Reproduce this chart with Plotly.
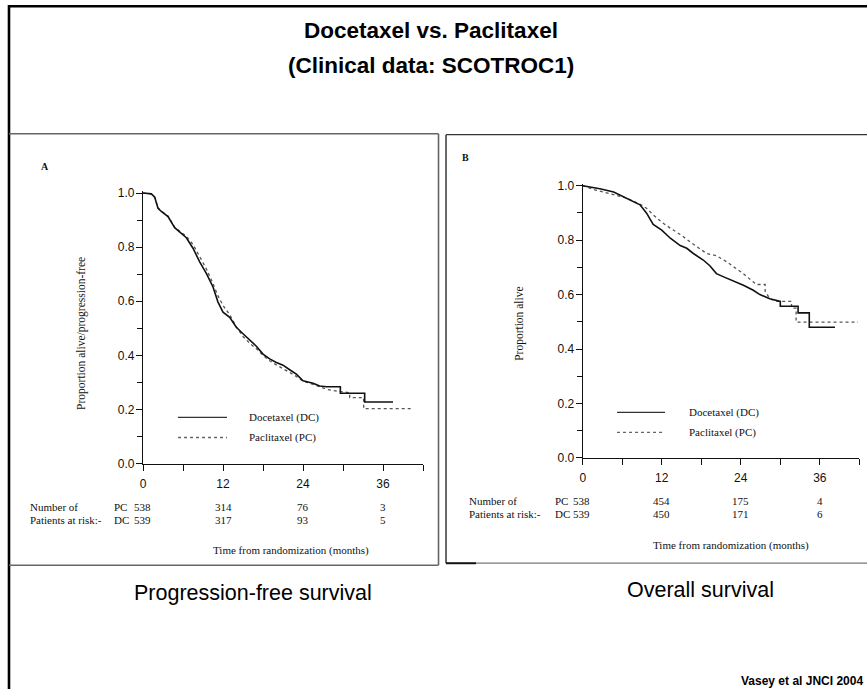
import plotly.graph_objects as go

W, H = 867, 696

# ---------------- data ----------------
# Progression-free survival, Docetaxel (DC)
pfs_dc_months = [0, 1.25, 1.75, 2.25, 2.75, 3.75, 4.75, 5.75, 6.5, 7.5, 8.5, 9.5, 10.5, 11.25,
                 12, 13, 14, 15, 16, 17, 18, 19, 20, 21, 22, 23, 24, 25.5, 26.5, 27.5,
                 29.6, 29.6, 33.25, 33.25, 37.5]
pfs_dc_surv = [1.0, 0.997, 0.985, 0.944, 0.932, 0.913, 0.872, 0.851, 0.835, 0.796, 0.746, 0.703,
               0.653, 0.597, 0.560, 0.541, 0.504, 0.480, 0.458, 0.434, 0.405, 0.387, 0.374, 0.364,
               0.347, 0.331, 0.306, 0.297, 0.287, 0.284, 0.284, 0.260, 0.260, 0.228, 0.228]
# Progression-free survival, Paclitaxel (PC)
pfs_pc_months = [0, 1.25, 1.75, 2.25, 2.75, 3.75, 4.75, 5.75, 6.5, 7.5, 8.5, 9.5, 10.5, 11.25,
                 12, 13, 14, 15, 16, 17, 18, 19, 20, 21, 22, 23, 24, 25.5, 26.5, 27.5, 28.5,
                 29.6, 30.5, 31.0, 31.0, 33.1, 33.1, 40.5]
pfs_pc_surv = [1.0, 0.997, 0.985, 0.946, 0.933, 0.915, 0.874, 0.853, 0.840, 0.810, 0.765, 0.720,
               0.665, 0.620, 0.585, 0.550, 0.505, 0.470, 0.445, 0.425, 0.400, 0.380, 0.365, 0.352,
               0.337, 0.322, 0.305, 0.293, 0.284, 0.275, 0.270, 0.266, 0.262, 0.262, 0.244, 0.244,
               0.203, 0.203]
# Overall survival, Docetaxel (DC)
os_dc_months = [0, 2.6, 4.7, 6.7, 8.7, 9.7, 10.7, 12.0, 13.3, 14.8, 15.8, 16.8, 18.3, 19.3, 20.3,
                21.4, 22.9, 24.4, 25.9, 26.9, 28.4, 30.0, 30.0, 32.7, 32.7, 34.4, 34.4, 38.3]
os_dc_surv = [1.0, 0.989, 0.977, 0.954, 0.930, 0.899, 0.858, 0.837, 0.807, 0.780, 0.770, 0.751,
              0.727, 0.706, 0.677, 0.665, 0.650, 0.634, 0.616, 0.600, 0.585, 0.575, 0.557, 0.557,
              0.533, 0.533, 0.480, 0.480]
# Overall survival, Paclitaxel (PC)
os_pc_months = [0, 2.1, 4.7, 6.7, 8.7, 9.7, 10.7, 12.0, 13.3, 14.8, 16.3, 17.8, 18.8, 20.3, 21.9,
                22.9, 24.4, 25.4, 26.4, 27.7, 27.7, 28.4, 29.5, 31.7, 31.7, 32.4, 32.4, 41.8]
os_pc_surv = [1.0, 0.983, 0.967, 0.954, 0.932, 0.917, 0.893, 0.866, 0.844, 0.821, 0.794, 0.770,
              0.751, 0.743, 0.720, 0.702, 0.677, 0.656, 0.637, 0.637, 0.612, 0.585, 0.575, 0.575,
              0.550, 0.550, 0.499, 0.499]

# numbers at risk
risk_months = [0, 12, 24, 36]
pfs_pc_risk = [538, 314, 76, 3]
pfs_dc_risk = [539, 317, 93, 5]
os_pc_risk = [538, 454, 175, 4]
os_dc_risk = [539, 450, 171, 6]

# tick labels
x_tick_vals = [0, 12, 24, 36]
x_tick_text = ["0", "12", "24", "36"]
x_minor_vals = [6, 18, 30, 42]
y_tick_vals = [0.0, 0.2, 0.4, 0.6, 0.8, 1.0]
y_tick_text = ["0.0", "0.2", "0.4", "0.6", "0.8", "1.0"]
y_minor_vals = [0.1, 0.3, 0.5, 0.7, 0.9]

# ---------------- helpers ----------------
# page placement correction (measured from how the page is photographed)
SY, OY = 0.977, 8.05
SX, OX = 0.9965, 3.0


def cpx(x):
    return (x - OX) / SX


def cpy(y):
    return (y - OY) / SY


def fx(px):
    return cpx(px) / W


def fy(py):
    return 1 - cpy(py) / H


SANS = "Liberation Sans, Arial, sans-serif"
SERIF = "Liberation Serif, Times New Roman, serif"
DC_STYLE = dict(color="#111111", width=1.6)
PC_STYLE = dict(color="#555555", width=1.3, dash="dot")

fig = go.Figure()

fig.add_trace(go.Scatter(x=pfs_pc_months, y=pfs_pc_surv, mode="lines", line=PC_STYLE,
                         xaxis="x", yaxis="y", name="Paclitaxel (PC)"))
fig.add_trace(go.Scatter(x=pfs_dc_months, y=pfs_dc_surv, mode="lines", line=DC_STYLE,
                         xaxis="x", yaxis="y", name="Docetaxel (DC)"))
fig.add_trace(go.Scatter(x=os_pc_months, y=os_pc_surv, mode="lines", line=PC_STYLE,
                         xaxis="x2", yaxis="y2", name="Paclitaxel (PC)"))
fig.add_trace(go.Scatter(x=os_dc_months, y=os_dc_surv, mode="lines", line=DC_STYLE,
                         xaxis="x2", yaxis="y2", name="Docetaxel (DC)"))


def xaxis_cfg(x0, x1, anchor):
    return dict(domain=[fx(x0), fx(x1)], range=[0, 42], anchor=anchor,
                showline=True, linecolor="#111", linewidth=1.2, mirror=False,
                tickmode="array", tickvals=x_tick_vals, ticktext=x_tick_text,
                ticks="outside", ticklen=6, tickwidth=1.2, tickcolor="#111",
                ticklabelstandoff=3,
                minor=dict(tickmode="array", tickvals=x_minor_vals, ticks="outside",
                           ticklen=6, tickwidth=1.2, tickcolor="#111", showgrid=False),
                showgrid=False, zeroline=False, fixedrange=True,
                tickfont=dict(family=SANS, size=12, color="#111"))


def yaxis_cfg(y0ref, y1ref, anchor):
    # y0ref: picture pixel of value 0, y1ref: picture pixel of value 1
    y0 = cpy(y0ref)
    y1 = cpy(y1ref)
    ppu = y0 - y1
    top = y0 - 1.006 * ppu
    return dict(domain=[1 - y0 / H, 1 - top / H], range=[0, 1.006], anchor=anchor,
                showline=True, linecolor="#111", linewidth=1.2,
                tickmode="array", tickvals=y_tick_vals, ticktext=y_tick_text,
                ticks="outside", ticklen=6, tickwidth=1.2, tickcolor="#111",
                ticklabelstandoff=-1,
                minor=dict(tickmode="array", tickvals=y_minor_vals, ticks="outside",
                           ticklen=5, tickwidth=1.2, tickcolor="#111", showgrid=False),
                showgrid=False, zeroline=False, fixedrange=True,
                tickfont=dict(family=SANS, size=12, color="#111"))


fig.update_layout(
    width=W, height=H, margin=dict(l=0, r=0, t=0, b=0),
    paper_bgcolor="white", plot_bgcolor="rgba(0,0,0,0)", showlegend=False,
    xaxis=xaxis_cfg(143, 423, "y"),
    yaxis=yaxis_cfg(464, 195, "x"),
    xaxis2=xaxis_cfg(582.7, 859.3, "y2"),
    yaxis2=yaxis_cfg(458.3, 187.7, "x2"),
)

ann = []


def text(px, py, s, size, family=SANS, xanchor="center", yanchor="middle", angle=0,
         color="#111"):
    ann.append(dict(x=fx(px), y=fy(py), xref="paper", yref="paper", text=s, showarrow=False,
                    xanchor=xanchor, yanchor=yanchor, textangle=angle,
                    font=dict(family=family, size=size, color=color)))


# Titles
text(431, 33, "<b>Docetaxel vs. Paclitaxel</b>", 22.5, color="#000")
text(431, 68, "<b>(Clinical data: SCOTROC1)</b>", 22.5, color="#000")
text(865, 680, "<b>Vasey et al JNCI 2004</b>", 12, xanchor="right", color="#000")
text(253, 593, "Progression-free survival", 21.5, color="#000")
text(700, 590, "Overall survival", 21.5, color="#000")

# Panel letters
text(45, 169, "<b>A</b>", 10, family=SERIF)
text(465, 160, "<b>B</b>", 10, family=SERIF)

# Y titles
text(82, 335, "Proportion alive/progression-free", 11.5, family=SERIF, angle=-90)
text(520, 325, "Proportion alive", 11.5, family=SERIF, angle=-90)

# X titles
text(291, 550, "Time from randomization (months)", 11, family=SERIF)
text(731, 545, "Time from randomization (months)", 11, family=SERIF)

# Legends (text)
text(247, 418, "Docetaxel (DC)", 11, family=SERIF, xanchor="left")
text(247, 438, "Paclitaxel (PC)", 11, family=SERIF, xanchor="left")
text(687, 413, "Docetaxel (DC)", 11, family=SERIF, xanchor="left")
text(687, 433, "Paclitaxel (PC)", 11, family=SERIF, xanchor="left")

# Numbers at risk
text(28, 507, "Number of", 11, family=SERIF, xanchor="left")
text(28, 520, "Patients at risk:-", 11, family=SERIF, xanchor="left")
text(112, 507, "PC", 11, family=SERIF, xanchor="left")
text(112, 520, "DC", 11, family=SERIF, xanchor="left")
text(467, 501, "Number of", 11, family=SERIF, xanchor="left")
text(467, 514, "Patients at risk:-", 11, family=SERIF, xanchor="left")
text(553, 501, "PC", 11, family=SERIF, xanchor="left")
text(553, 514, "DC", 11, family=SERIF, xanchor="left")


def risk_row(xref, months, values, py, shift0):
    for m, v in zip(months, values):
        ann.append(dict(x=m, y=fy(py), xref=xref, yref="paper", text=str(v), showarrow=False,
                        xanchor="center", yanchor="middle",
                        xshift=shift0 if m == 0 else 0,
                        font=dict(family=SERIF, size=11, color="#111")))


risk_row("x", risk_months, pfs_pc_risk, 507, -1)
risk_row("x", risk_months, pfs_dc_risk, 520, -1)
risk_row("x2", risk_months, os_pc_risk, 501, -1)
risk_row("x2", risk_months, os_dc_risk, 514, -1)

fig.update_layout(annotations=ann)

shapes = []


def seg(x0, y0, x1, y1, color="#000", width=1.0, dash="solid"):
    shapes.append(dict(type="line", xref="paper", yref="paper",
                       x0=fx(x0), y0=fy(y0), x1=fx(x1), y1=fy(y1),
                       line=dict(color=color, width=width, dash=dash)))


# outer frame (top and left)
shapes.append(dict(type="line", xref="paper", yref="paper",
                   x0=fx(8), y0=1 - 1.3 / H, x1=1, y1=1 - 1.3 / H,
                   line=dict(color="#000", width=2.6)))
shapes.append(dict(type="line", xref="paper", yref="paper",
                   x0=fx(9), y0=1, x1=fx(9), y1=0,
                   line=dict(color="#000", width=2.6)))
# left panel box
seg(9, 136, 438.5, 136, "#666", 1.6)
seg(438.5, 136, 438.5, 565, "#666", 1.6)
seg(9, 565, 438.5, 565, "#666", 1.6)
# right panel box
shapes.append(dict(type="line", xref="paper", yref="paper",
                   x0=fx(446), y0=fy(137), x1=1, y1=fy(137),
                   line=dict(color="#333", width=1.3)))
seg(446, 137, 446, 563, "#444", 1.6)
seg(446, 563, 476, 563, "#111", 2.0)
shapes.append(dict(type="line", xref="paper", yref="paper",
                   x0=fx(476), y0=fy(563), x1=1, y1=fy(563),
                   line=dict(color="#777", width=1.3)))
# legend samples
seg(178, 418, 227, 418, "#333", 1.3)
seg(178, 438, 227, 438, "#666", 1.3, "dot")
seg(617, 413, 665, 413, "#333", 1.3)
seg(617, 433, 665, 433, "#666", 1.3, "dot")

fig.update_layout(shapes=shapes)

fig.write_html(
    "out.html",
    config={"displayModeBar": False},
    post_script="document.body.style.margin='0px';document.body.style.padding='0px';"
                "document.body.style.overflow='hidden';",
)
